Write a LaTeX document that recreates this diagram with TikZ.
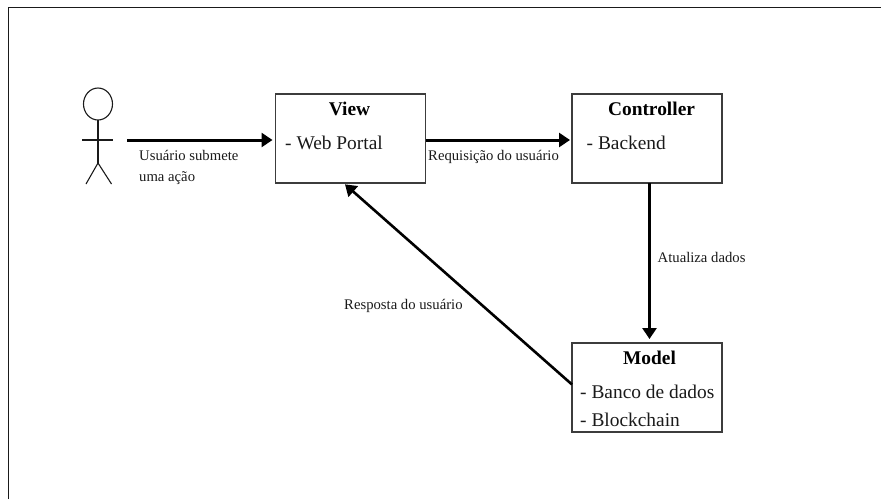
\documentclass[tikz,border=0pt]{standalone}
\usepackage{fontspec}
\setmainfont{Liberation Serif}
\usetikzlibrary{arrows.meta,shapes.geometric}
\definecolor{ink}{HTML}{1A1A1A}
\tikzset{
  x=1pt,y=-1pt,
  boxn/.style={draw=ink!85,line width=1.3pt,minimum width=150pt,minimum height=89pt,inner sep=0pt,outer sep=0pt},
  titlen/.style={font=\fontsize{19.4}{22}\selectfont\bfseries,text=black,inner sep=0pt,anchor=base},
  bodyn/.style={font=\fontsize{19.4}{22}\selectfont,text=ink,inner sep=0pt,anchor=base west},
  labeln/.style={font=\fontsize{14.7}{17}\selectfont,text=ink,inner sep=0pt,anchor=base west},
  flow/.style={draw=black,line width=3pt,-{Triangle[length=11pt,width=14pt]}},
  flowthin/.style={draw=black,line width=2.6pt,-{Triangle[length=11pt,width=14pt]}},
  actorline/.style={draw=ink,line width=1.1pt},
}
\begin{document}
\begin{tikzpicture}
\useasboundingbox (0,0) rectangle (881,499);
\draw[draw=ink,line width=1.3pt] (8.5,499) -- (8.5,7.5) -- (881,7.5);
% actor
\node[actorline,ellipse,minimum width=29pt,minimum height=32pt,inner sep=0pt,outer sep=0pt] (head) at (98,104) {};
\coordinate (hip) at (98,163);
\coordinate (armL) at (82,140);
\coordinate (armR) at (112.5,140);
\coordinate (footL) at (86,184);
\coordinate (footR) at (111.5,184);
\draw[actorline] (head.south) -- (hip);
\draw[actorline] (armL) -- (armR);
\draw[actorline] (footL) -- (hip) -- (footR);
% boxes
\node[boxn] (view) at (350.5,138.5) {};
\node[boxn] (ctrl) at (647,138.5) {};
\node[boxn] (model) at (647,387.5) {};
\node[titlen] (viewT) at (349.5,115) {View};
\node[bodyn] (viewB) at (285,149) {- Web Portal};
\node[titlen] (ctrlT) at (651.5,115) {Controller};
\node[bodyn] (ctrlB) at (586.5,149) {- Backend};
\node[titlen] (modelT) at (649.5,364) {Model};
\node[bodyn] (modelB) at (580,398) {- Banco de dados};
\node[bodyn] (modelC) at (580,426) {- Blockchain};
% connectors
\coordinate (start) at (127,140);
\draw[flow,shorten >=3pt] (start) -- (start -| view.west);
\draw[flow,shorten >=2pt] (view.east |- start) -- (ctrl.west |- start);
\draw[flow,shorten >=4pt] ([xshift=2.5pt]ctrl.south) -- ([xshift=2.5pt]model.north);
\draw[flowthin,shorten >=2pt] ([yshift=3pt]model.west) -- ([xshift=-7pt]view.south);
% labels
\node[labeln] (l1) at (139,160) {Usuário submete};
\node[labeln] (l2) at (139,181) {uma ação};
\node[labeln] (l3) at (428,160) {Requisição do usuário};
\node[labeln] (l4) at (657.5,262) {Atualiza dados};
\node[labeln] (l5) at (344,309) {Resposta do usuário};
\end{tikzpicture}
\end{document}
